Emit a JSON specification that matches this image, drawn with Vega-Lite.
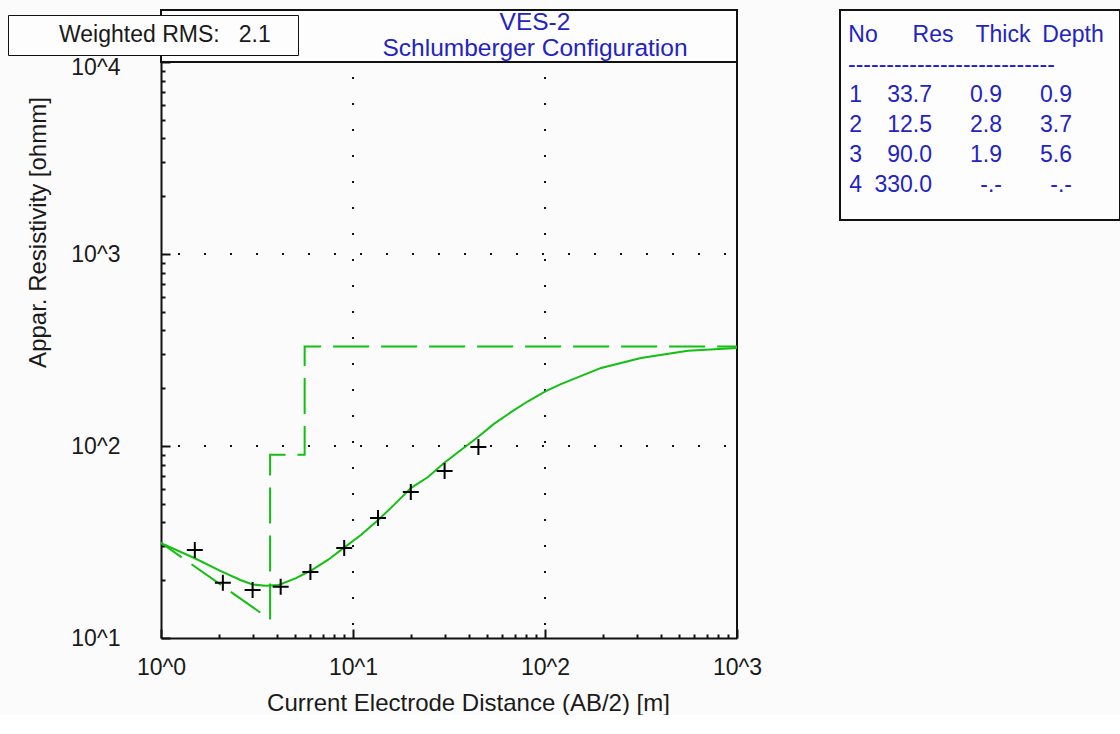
{
  "$schema": "https://vega.github.io/schema/vega-lite/v6.json",
  "background": "#fbfbfb",
  "padding": {"left": 7, "top": 9, "right": 0, "bottom": 0},
  "spacing": 77,
  "config": {
    "view": {"stroke": "#111111", "strokeWidth": 2, "fill": "#fdfdfd"},
    "font": "Liberation Sans"
  },
  "datasets": {
    "measured": [
      {"ab2": 1.5, "rho": 28.7}, {"ab2": 2.1, "rho": 19.4}, {"ab2": 3, "rho": 17.8},
      {"ab2": 4.2, "rho": 18.5}, {"ab2": 6, "rho": 22.1}, {"ab2": 9, "rho": 29.4},
      {"ab2": 13.5, "rho": 42.2}, {"ab2": 20, "rho": 57.6}, {"ab2": 30, "rho": 74.1},
      {"ab2": 45, "rho": 98.8}
    ],
    "fit": [
      {"ab2": 1, "rho": 31.2}, {"ab2": 1.49, "rho": 26.1}, {"ab2": 2.05, "rho": 22.3},
      {"ab2": 2.61, "rho": 20.0}, {"ab2": 3.0, "rho": 19.0}, {"ab2": 3.5, "rho": 18.7},
      {"ab2": 4.1, "rho": 18.9}, {"ab2": 5.05, "rho": 20.5}, {"ab2": 6.1, "rho": 22.6},
      {"ab2": 7.4, "rho": 25.5}, {"ab2": 9.2, "rho": 30.1}, {"ab2": 11, "rho": 34.4},
      {"ab2": 13.7, "rho": 41.7}, {"ab2": 16.4, "rho": 49.5}, {"ab2": 20, "rho": 60.4},
      {"ab2": 24.6, "rho": 68.9}, {"ab2": 29.8, "rho": 81.5}, {"ab2": 36.5, "rho": 95.3},
      {"ab2": 44.8, "rho": 111.5}, {"ab2": 54, "rho": 130}, {"ab2": 66.5, "rho": 150},
      {"ab2": 81.5, "rho": 171}, {"ab2": 101, "rho": 193}, {"ab2": 121, "rho": 210},
      {"ab2": 196, "rho": 255}, {"ab2": 316, "rho": 287}, {"ab2": 555, "rho": 313},
      {"ab2": 1000, "rho": 324}
    ],
    "model": [
      {"seq": 1, "ab2": 0.9, "rho": 33.7}, {"seq": 2, "ab2": 3.7, "rho": 12.5},
      {"seq": 3, "ab2": 3.7, "rho": 90}, {"seq": 4, "ab2": 5.6, "rho": 90},
      {"seq": 5, "ab2": 5.6, "rho": 330}, {"seq": 6, "ab2": 1000, "rho": 330}
    ],
    "gridX": [{"ab2": 10}, {"ab2": 100}],
    "gridY": [{"rho": 100}, {"rho": 1000}],
    "titleLines": [{"line": "VES-2"}, {"line": "Schlumberger Configuration"}],
    "table": [
      {"row": "h", "col": "No", "t": "No"}, {"row": "h", "col": "Res", "t": "Res"},
      {"row": "h", "col": "Thick", "t": "Thick"}, {"row": "h", "col": "Depth", "t": "Depth"},
      {"row": "s", "col": "No", "t": "---------------------------"},
      {"row": "1", "col": "No", "t": "1"}, {"row": "1", "col": "Res", "t": "33.7"},
      {"row": "1", "col": "Thick", "t": "0.9"}, {"row": "1", "col": "Depth", "t": "0.9"},
      {"row": "2", "col": "No", "t": "2"}, {"row": "2", "col": "Res", "t": "12.5"},
      {"row": "2", "col": "Thick", "t": "2.8"}, {"row": "2", "col": "Depth", "t": "3.7"},
      {"row": "3", "col": "No", "t": "3"}, {"row": "3", "col": "Res", "t": "90.0"},
      {"row": "3", "col": "Thick", "t": "1.9"}, {"row": "3", "col": "Depth", "t": "5.6"},
      {"row": "4", "col": "No", "t": "4"}, {"row": "4", "col": "Res", "t": "330.0"},
      {"row": "4", "col": "Thick", "t": "-.-"}, {"row": "4", "col": "Depth", "t": "-.-\u00a0\u00a0\u00a0"}
    ]
  },
  "hconcat": [
    {
      "spacing": 0,
      "bounds": "flush",
      "vconcat": [
        {
          "width": 576,
          "height": 52,
          "data": {"name": "titleLines"},
          "mark": {"type": "text", "align": "center", "baseline": "middle", "dx": 86, "fontSize": 24.5, "font": "Liberation Sans", "color": "#2323c4"},
          "encoding": {
            "y": {"field": "line", "type": "ordinal", "sort": ["VES-2", "Schlumberger Configuration"], "scale": {"type": "point", "padding": 0.5}, "axis": null},
            "text": {"field": "line"}
          }
        },
        {
          "width": 576,
          "height": 576,
          "view": {"stroke": null, "fill": null},
          "layer": [
            {
              "data": {"name": "gridX"},
              "mark": {"type": "rule", "stroke": "#111111", "strokeWidth": 2, "strokeDash": [2, 24], "strokeDashOffset": 11},
              "encoding": {
                "x": {"field": "ab2", "type": "quantitative", "title": "Current Electrode Distance (AB/2) [m]", "scale": {"type": "log", "domain": [1, 1000], "nice": false}}
              }
            },
            {
              "data": {"name": "gridY"},
              "mark": {"type": "rule", "stroke": "#111111", "strokeWidth": 2, "strokeDash": [2, 24], "strokeDashOffset": 15},
              "encoding": {
                "y": {"field": "rho", "type": "quantitative", "title": "Appar. Resistivity [ohmm]", "scale": {"type": "log", "domain": [10, 10000], "nice": false}}
              }
            },
            {
              "data": {"values": [{"edge": 1000}]},
              "mark": {"type": "rule", "stroke": "#111111", "strokeWidth": 2},
              "encoding": {
                "x": {"field": "edge", "type": "quantitative", "title": "Current Electrode Distance (AB/2) [m]", "scale": {"type": "log", "domain": [1, 1000], "nice": false}}
              }
            },
            {
              "data": {"name": "model"},
              "mark": {"type": "line", "stroke": "#12bf12", "strokeWidth": 2, "strokeDash": [36, 12], "clip": true},
              "encoding": {
                "x": {"field": "ab2", "type": "quantitative", "title": "Current Electrode Distance (AB/2) [m]", "scale": {"type": "log", "domain": [1, 1000], "nice": false}},
                "y": {"field": "rho", "type": "quantitative", "title": "Appar. Resistivity [ohmm]", "scale": {"type": "log", "domain": [10, 10000], "nice": false}},
                "order": {"field": "seq"}
              }
            },
            {
              "data": {"name": "fit"},
              "mark": {"type": "line", "strokeWidth": 2, "clip": true},
              "encoding": {
                "x": {
                  "field": "ab2", "type": "quantitative",
                  "title": "Current Electrode Distance (AB/2) [m]",
                  "scale": {"type": "log", "domain": [1, 1000], "nice": false},
                  "axis": {
                    "title": "Current Electrode Distance (AB/2) [m]",
                    "values": [1, 2, 3, 4, 5, 6, 7, 8, 9, 10, 20, 30, 40, 50, 60, 70, 80, 90, 100, 200, 300, 400, 500, 600, 700, 800, 900, 1000],
                    "labelExpr": "abs(log(datum.value)/LN10 - round(log(datum.value)/LN10)) < 0.001 ? '10^' + round(log(datum.value)/LN10) : ''",
                    "labelFlush": false, "labelOverlap": false, "labelBound": false,
                    "grid": false,
                    "domainColor": "#111111", "domainWidth": 2,
                    "tickColor": "#111111", "tickWidth": 2,
                    "tickSize": {"condition": {"test": "abs(log(datum.value)/LN10 - round(log(datum.value)/LN10)) < 0.001", "value": -9}, "value": -4},
                    "labelPadding": 27,
                    "labelFont": "Liberation Sans", "labelFontSize": 23, "labelColor": "#1a1a1a",
                    "titleFont": "Liberation Sans", "titleFontSize": 24, "titleFontWeight": "normal", "titleColor": "#1a1a1a",
                    "titleX": 307, "titleY": 72, "titleBaseline": "alphabetic"
                  }
                },
                "y": {
                  "field": "rho", "type": "quantitative",
                  "title": "Appar. Resistivity [ohmm]",
                  "scale": {"type": "log", "domain": [10, 10000], "nice": false},
                  "axis": {
                    "title": "Appar. Resistivity [ohmm]",
                    "values": [10, 20, 30, 40, 50, 60, 70, 80, 90, 100, 200, 300, 400, 500, 600, 700, 800, 900, 1000, 2000, 3000, 4000, 5000, 6000, 7000, 8000, 9000, 10000],
                    "labelExpr": "abs(log(datum.value)/LN10 - round(log(datum.value)/LN10)) < 0.001 ? '10^' + round(log(datum.value)/LN10) : ''",
                    "labelOverlap": false, "labelBound": false, "labelFlush": false,
                    "labelOffset": {"condition": {"test": "datum.value >= 9999", "value": 5}, "value": 0},
                    "grid": false,
                    "domainColor": "#111111", "domainWidth": 2,
                    "tickColor": "#111111", "tickWidth": 2,
                    "tickSize": {"condition": {"test": "abs(log(datum.value)/LN10 - round(log(datum.value)/LN10)) < 0.001", "value": -9}, "value": -4},
                    "labelPadding": 50,
                    "labelFont": "Liberation Sans", "labelFontSize": 23, "labelColor": "#1a1a1a",
                    "titleFont": "Liberation Sans", "titleFontSize": 24, "titleFontWeight": "normal", "titleColor": "#1a1a1a",
                    "titleX": -116, "titleY": 170, "titleAngle": -90, "titleAlign": "center", "titleBaseline": "alphabetic"
                  }
                },
                "stroke": {
                  "datum": "Weighted RMS:\u00a0\u00a0\u00a02.1",
                  "type": "nominal",
                  "scale": {"range": ["#12bf12"]},
                  "legend": {
                    "orient": "none",
                    "legendX": -153,
                    "legendY": 5,
                    "title": "\u00a0",
                    "titleOrient": "right",
                    "titlePadding": 19,
                    "titleFontSize": 23,
                    "padding": 8,
                    "strokeColor": "#111111",
                    "fillColor": "#fdfdfd",
                    "symbolOpacity": 0,
                    "symbolSize": 0,
                    "symbolStrokeWidth": 0,
                    "labelOffset": 20,
                    "labelLimit": 0,
                    "labelFont": "Liberation Sans",
                    "labelFontSize": 23,
                    "labelColor": "#1a1a1a"
                  }
                }
              }
            },
            {
              "data": {"name": "measured"},
              "mark": {"type": "point", "shape": "M-1,0L1,0M0,-1L0,1", "filled": false, "stroke": "#000000", "strokeWidth": 2, "size": 256, "opacity": 1},
              "encoding": {
                "x": {"field": "ab2", "type": "quantitative", "title": "Current Electrode Distance (AB/2) [m]", "scale": {"type": "log", "domain": [1, 1000], "nice": false}},
                "y": {"field": "rho", "type": "quantitative", "title": "Appar. Resistivity [ohmm]", "scale": {"type": "log", "domain": [10, 10000], "nice": false}}
              }
            }
          ]
        }
      ]
    },
    {
      "width": 280,
      "height": 210,
      "data": {"name": "table"},
      "layer": [
        {
          "transform": [{"filter": "datum.row === 'h'"}],
          "mark": {"type": "text", "align": "center", "baseline": "middle", "dx": -12, "fontSize": 23, "font": "Liberation Sans", "color": "#2323c4"},
          "encoding": {
            "x": {"field": "col", "type": "nominal", "sort": ["No", "Res", "Thick", "Depth"], "scale": {"type": "band", "paddingInner": 0, "paddingOuter": 0}, "axis": null},
            "y": {"field": "row", "type": "ordinal", "sort": ["h", "s", "1", "2", "3", "4"], "scale": {"type": "point", "padding": 1, "align": 0.42}, "axis": null},
            "text": {"field": "t"}
          }
        },
        {
          "transform": [{"filter": "datum.row === 's'"}],
          "mark": {"type": "text", "align": "left", "baseline": "middle", "dx": 8, "fontSize": 23, "font": "Liberation Sans", "color": "#2323c4"},
          "encoding": {
            "x": {"field": "col", "type": "nominal", "bandPosition": 0, "sort": ["No", "Res", "Thick", "Depth"], "scale": {"type": "band", "paddingInner": 0, "paddingOuter": 0}, "axis": null},
            "y": {"field": "row", "type": "ordinal", "sort": ["h", "s", "1", "2", "3", "4"], "scale": {"type": "point", "padding": 1, "align": 0.42}, "axis": null},
            "text": {"field": "t"}
          }
        },
        {
          "transform": [{"filter": "datum.row !== 'h' && datum.row !== 's'"}],
          "mark": {"type": "text", "align": "right", "baseline": "middle", "dx": -48, "fontSize": 23, "font": "Liberation Sans", "color": "#2323c4"},
          "encoding": {
            "x": {"field": "col", "type": "nominal", "bandPosition": 1, "sort": ["No", "Res", "Thick", "Depth"], "scale": {"type": "band", "paddingInner": 0, "paddingOuter": 0}, "axis": null},
            "y": {"field": "row", "type": "ordinal", "sort": ["h", "s", "1", "2", "3", "4"], "scale": {"type": "point", "padding": 1, "align": 0.42}, "axis": null},
            "text": {"field": "t"}
          }
        }
      ]
    }
  ]
}
